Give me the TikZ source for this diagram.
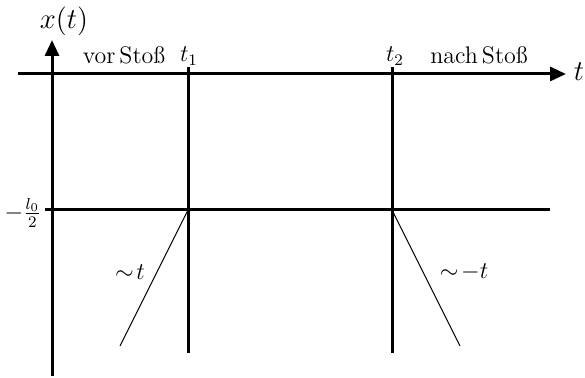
\documentclass[tikz,border=0pt]{standalone}
\usetikzlibrary{arrows.meta}
\begin{document}
\begin{tikzpicture}[x=0.5pt,y=-0.5pt,
  axis/.style={line width=1.5pt},
  axisarrow/.style={line width=1.5pt,-{Triangle[length=8pt,width=7pt]}},
  thinline/.style={line width=0.55pt},
  lbl/.style={inner sep=0pt}]
\useasboundingbox (0,0) rectangle (585,378);
% coordinates
\coordinate (yb) at (52,376);
\coordinate (yt) at (52,40);
\coordinate (xl) at (18,74);
\coordinate (xr) at (566,74);
\coordinate (t1t) at (188,67);
\coordinate (t1b) at (188,353);
\coordinate (t2t) at (392,67);
\coordinate (t2b) at (392,353);
\coordinate (hl) at (45,210);
\coordinate (hr) at (550,210);
\coordinate (c1) at (188,210);
\coordinate (c2) at (392,210);
\coordinate (e1) at (120,346);
\coordinate (e2) at (460,346);
% axes
\draw[axisarrow] (yb) -- (yt);
\draw[axisarrow] (xl) -- (xr);
\draw[axis] (t1t) -- (t1b);
\draw[axis] (t2t) -- (t2b);
\draw[axis] (hl) -- (hr);
% slopes
\draw[thinline] (c1) -- (e1);
\draw[thinline] (c2) -- (e2);
% labels
\node[lbl] (xt) at (64,21) {\Large $x(t)$};
\node[lbl] (tl) at (579,72) {\Large $t$};
\node[lbl] (vor) at (124,55) {\large vor\,Sto\ss};
\node[lbl] (nach) at (479,55) {\large nach\,Sto\ss};
\node[lbl] (t1) at (189,56) {\large $t_1$};
\node[lbl] (t2) at (395,56) {\large $t_2$};
\node[lbl] (l0) at (23,213) {\large $-\frac{l_0}{2}$};
\node[lbl] (simt) at (130,272) {\large $\sim\! t$};
\node[lbl] (simmt) at (464,272) {\large $\sim\!-t$};
\end{tikzpicture}
\end{document}
